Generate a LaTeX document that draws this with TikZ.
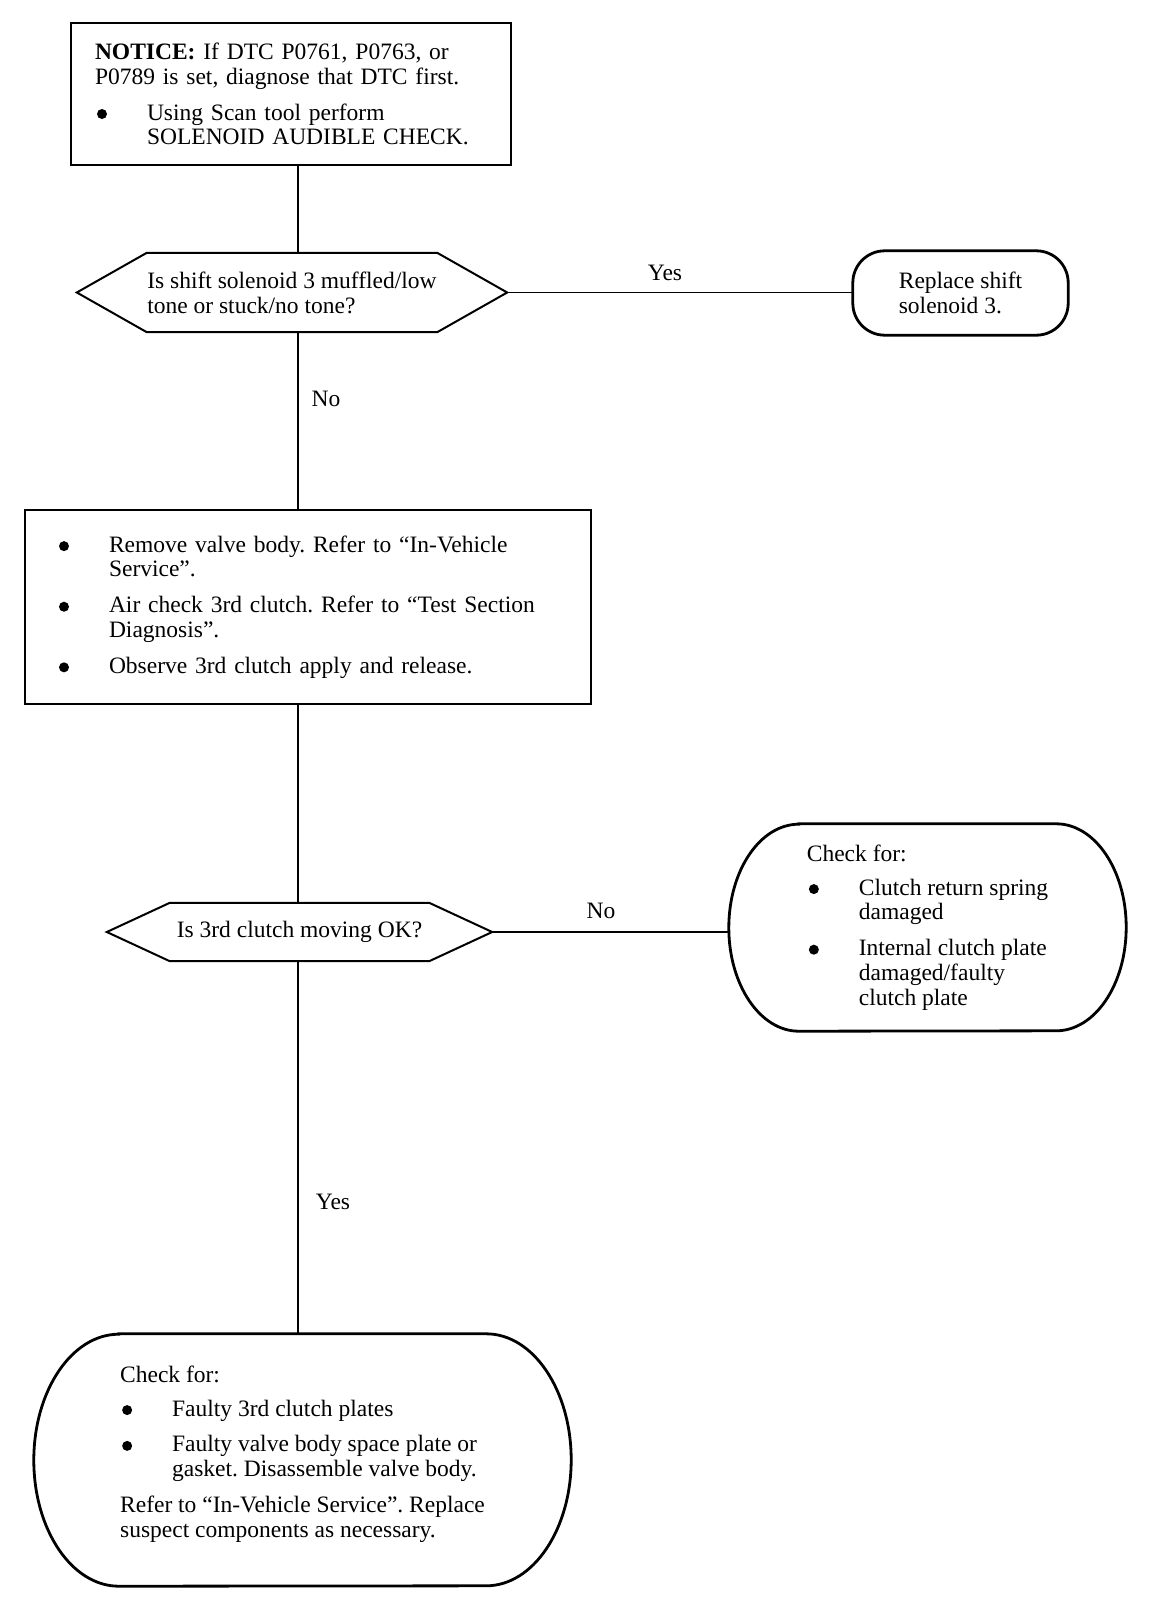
\documentclass[tikz,border=0pt]{standalone}
\usepackage{fontspec}
\setmainfont{Liberation Serif}
\usepackage{tikz}
\usetikzlibrary{positioning}
\frenchspacing

\newcommand{\dotmark}{\makebox[52pt][l]{\hspace{2pt}\tikz[baseline=-6pt]\fill (0,0) circle (5pt);}}
\newcommand{\dotpad}{\hspace*{52pt}}
\newcommand{\hexframe}[2]{\draw[frame] (#1.west) -- ([xshift=#2]#1.north west) -- ([xshift=-#2]#1.north east) -- (#1.east) -- ([xshift=-#2]#1.south east) -- ([xshift=#2]#1.south west) -- cycle;}
\newcommand{\capframe}[3]{\draw[frame, line width=2.8pt] ([xshift=#2]#1.north west) -- ([xshift=-#2]#1.north east) arc[start angle=90, end angle=-90, x radius=#2, y radius=#3] -- ([xshift=#2]#1.south west) arc[start angle=270, end angle=90, x radius=#2, y radius=#3] -- cycle;}

\begin{document}
\begin{tikzpicture}[
    x=1pt,
    y=-1pt,
    font=\fontsize{23.5}{24.8}\selectfont,
    frame/.style={draw=black, line width=2pt, line join=miter},
    box/.style={rectangle, draw=black, line width=2pt, align=left, inner ysep=0pt},
    query/.style={rectangle, inner sep=0pt, align=left},
    pill/.style={rectangle, inner sep=0pt, align=left},
    link/.style={draw=black, line width=1.4pt},
    tag/.style={inner sep=0pt}
]

\useasboundingbox (0,0) rectangle (1152,1608);
\coordinate (spine) at (298,0);

\node[box, text width=392pt, inner xsep=24pt, minimum height=142pt] (notice) at (291,94)
    {\textbf{NOTICE:} If DTC P0761, P0763, or\\P0789 is set, diagnose that DTC first.\\[11pt]\dotmark Using Scan tool perform\\\dotpad SOLENOID AUDIBLE CHECK.};

\node[query, minimum width=430pt, minimum height=79pt] (q1) at (292,292.5)
    {Is shift solenoid 3 muffled/low\\tone or stuck/no tone?};
\hexframe{q1}{70pt}

\node[pill, minimum width=215pt, minimum height=84pt] (rep) at (960.5,293) {Replace shift\\solenoid 3.};
\draw[frame, line width=2.8pt, rounded corners=32pt] (rep.north west) rectangle (rep.south east);

\node[box, text width=502pt, inner xsep=32pt, minimum height=194pt] (steps) at (308,607)
    {\dotmark Remove valve body. Refer to “In-Vehicle\\\dotpad Service”.\\[11pt]\dotmark Air check 3rd clutch. Refer to “Test Section\\\dotpad Diagnosis”.\\[11pt]\dotmark Observe 3rd clutch apply and release.};

\node[query, minimum width=385pt, minimum height=58pt] (q2) at (299.5,932) {Is 3rd clutch moving OK?};
\hexframe{q2}{63pt}

\node[pill, minimum width=397pt, minimum height=207pt] (ovr) at (927.5,927.5)
    {Check for:\\[9pt]\dotmark Clutch return spring\\\dotpad damaged\\[11pt]\dotmark Internal clutch plate\\\dotpad damaged/faulty\\\dotpad clutch plate};
\capframe{ovr}{70pt}{103.5pt}

\node[pill, minimum width=537pt, minimum height=252pt, text depth=17pt] (fix) at (302.5,1460)
    {Check for:\\[9pt]\dotmark Faulty 3rd clutch plates\\[11pt]\dotmark Faulty valve body space plate or\\\dotpad gasket. Disassemble valve body.\\[11pt]Refer to “In-Vehicle Service”. Replace\\suspect components as necessary.};
\capframe{fix}{85pt}{126pt}

% connectors
\draw[link] (notice.south -| spine) -- (q1.north -| spine);
\draw[link] (q1.south -| spine) -- (steps.north -| spine);
\draw[link] (steps.south -| spine) -- (q2.north -| spine);
\draw[link] (q2.south -| spine) -- (fix.north -| spine);
\draw[link] (q1.east) -- (q1.east -| rep.west);
\draw[link] (q2.east) -- (q2.east -| ovr.west);

\node[tag] (yes1) at (665,273) {Yes};
\node[tag] (no1) at (326,399) {No};
\node[tag] (no2) at (601,911) {No};
\node[tag] (yes2) at (333,1202) {Yes};

\end{tikzpicture}
\end{document}
